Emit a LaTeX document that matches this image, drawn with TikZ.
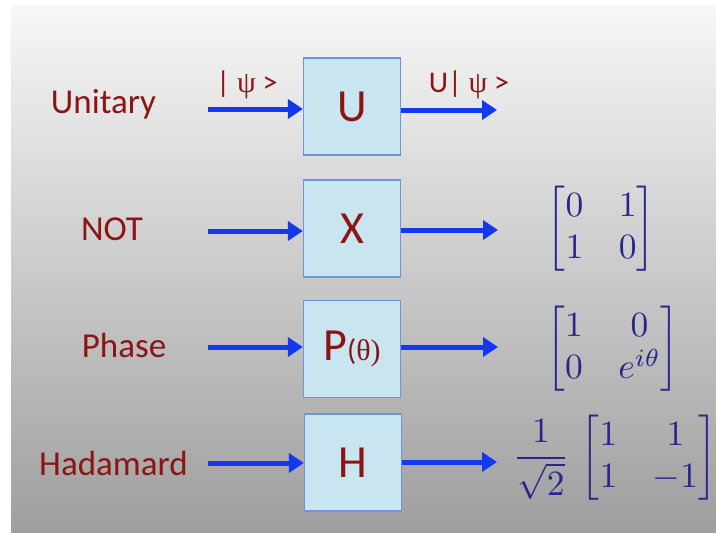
\documentclass[tikz,border=0pt]{standalone}
\usepackage{amsmath}
\usepackage{fontspec}
\newfontfamily\carlito{Carlito}
\newfontfamily\greekfont{Liberation Serif}
\usetikzlibrary{arrows.meta,positioning}
\definecolor{Gate}{HTML}{C8E5F0}
\definecolor{GateEdge}{HTML}{6E94DA}
\definecolor{Wire}{HTML}{1438F0}
\definecolor{Crimson}{HTML}{8C1414}
\definecolor{Navy}{HTML}{26268C}

\begin{document}
\begin{tikzpicture}[x=1pt,y=-1pt,
    gatebox/.style={draw=GateEdge,fill=Gate,line width=1.3pt,minimum width=97pt,minimum height=97pt,inner sep=0pt,text=Crimson,font=\carlito\fontsize{46}{50}\selectfont},
    gatename/.style={anchor=base,text=Crimson,font=\carlito\fontsize{35}{40}\selectfont},
    ketlabel/.style={anchor=base,text=Crimson,font=\carlito\fontsize{30}{34}\selectfont},
    wire/.style={draw=Wire,line width=5pt,-{Triangle[length=15pt,width=19pt]}},
    matrixtext/.style={text=Navy,scale=3.55,inner sep=0pt}]
    \useasboundingbox (0,0) rectangle (716,533);
    \shade[top color=black!3,bottom color=black!38] (11,5) rectangle (716,533);
    \node[gatename] (lblU) at (103.5,113) {Unitary};
    \node[gatename] (lblX) at (112,240) {NOT};
    \node[gatename] (lblP) at (124,357) {Phase};
    \node[gatename] (lblH) at (113.5,475) {Hadamard};
    \node[gatebox] (U) at (352,106.5) {U};
    \node[gatebox] (X) at (352,228.5) {X};
    \node[gatebox] (P) at (352,349) {P{\fontsize{30}{34}\selectfont(\greekfont θ)}};
    \node[gatebox] (H) at (353,462.5) {H};
    \coordinate (inU) at (208,109);
    \coordinate (inX) at (208,231);
    \coordinate (inP) at (208,347);
    \coordinate (inH) at (208,463);
    \coordinate (outU) at (497,110);
    \coordinate (outX) at (498,230);
    \coordinate (outP) at (498,347);
    \coordinate (outH) at (497,462);
    \draw[wire] (inU) -- (inU -| U.west);
    \draw[wire] (inX) -- (inX -| X.west);
    \draw[wire] (inP) -- (inP -| P.west);
    \draw[wire] (inH) -- (inH -| H.west);
    \draw[wire] (outU -| U.east) -- (outU);
    \draw[wire] (outX -| X.east) -- (outX);
    \draw[wire] (outP -| P.east) -- (outP);
    \draw[wire] (outH -| H.east) -- (outH);
    \node[ketlabel] (ketin) at (247,92) {| {\greekfont ψ} >};
    \node[ketlabel] (ketout) at (469,92) {U| {\greekfont ψ} >};
    \node[matrixtext] (matX) at (601,229) {$\begin{bmatrix}0&1\\1&0\end{bmatrix}$};
    \node[matrixtext] (matP) at (613,349) {$\begin{bmatrix}1&0\\0&e^{i\theta}\end{bmatrix}$};
    \node[matrixtext] (matH) at (615,458) {$\dfrac{1}{\sqrt{2}}\,\begin{bmatrix}1&1\\1&-1\end{bmatrix}$};
\end{tikzpicture}
\end{document}
